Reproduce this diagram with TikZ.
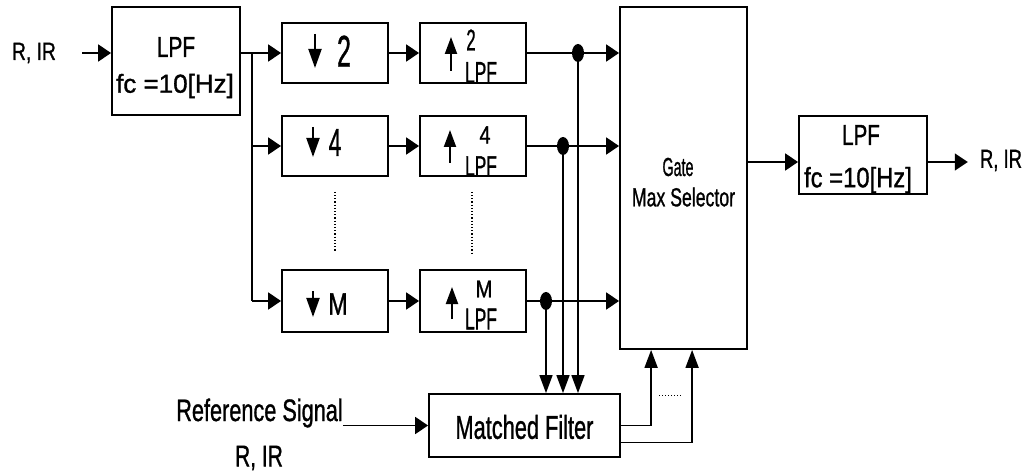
\documentclass[tikz,border=0pt]{standalone}
\usepackage{fontspec}
\usepackage{graphicx}
\setmainfont[FakeBold=1.2]{Liberation Sans}
\usetikzlibrary{arrows.meta}
\newcommand\tx[3]{{\fontsize{#1}{#1}\selectfont\scalebox{#2}[1]{#3}}}
\begin{document}
\begin{tikzpicture}[x=1pt,y=-1pt,
  blk/.style={draw, line width=1.8pt, inner sep=0pt},
  harr/.style={line width=1.7pt, -{Triangle[length=13pt,width=17pt]}},
  varr/.style={line width=1.7pt, -{Triangle[length=18pt,width=13pt]}},
  dna/.style={line width=2pt, -{Triangle[length=19pt,width=13pt]}},
  upa/.style={line width=2pt, -{Triangle[length=17pt,width=12pt]}},
  ln/.style={line width=1.7pt},
  txt/.style={inner sep=0pt},
  dt/.style={dotted, line width=1.2pt}]
\useasboundingbox (0,0) rectangle (1034,473);

% input LPF
\node[blk, minimum width=128pt, minimum height=108pt] (lpf1) at (176,61) {};
\node[txt] (lpf1a) at (176,47) {\tx{29}{0.72}{LPF}};
\node[txt] (lpf1b) at (175,86) {\tx{26}{1.0}{fc =10[Hz]}};
\node[txt] (inL) at (34,53) {\tx{25}{0.77}{R, IR}};
\draw[harr, shorten <=26pt] (inL.east) -- (lpf1.west |- inL.east);

% down-sampling boxes
\node[blk, minimum width=106pt, minimum height=60pt] (d2) at (335,53) {};
\node[blk, minimum width=106pt, minimum height=60pt] (d4) at (335,146) {};
\node[blk, minimum width=106pt, minimum height=62pt] (dM) at (335,301) {};
% up-sampling boxes
\node[blk, minimum width=106pt, minimum height=60pt] (u2) at (473,53) {};
\node[blk, minimum width=106pt, minimum height=60pt] (u4) at (473,146) {};
\node[blk, minimum width=106pt, minimum height=62pt] (uM) at (473,301) {};

% contents of down boxes
\draw[dna] ([xshift=-20pt,yshift=19pt]d2.center) -- ([xshift=-20pt,yshift=-15pt]d2.center);
\node[txt] (d2t) at (344,51) {\tx{44}{0.57}{2}};
\draw[dna] ([xshift=-22pt,yshift=19pt]d4.center) -- ([xshift=-22pt,yshift=-11pt]d4.center);
\node[txt] (d4t) at (335,142.5) {\tx{39}{0.58}{4}};
\draw[dna] ([xshift=-22pt,yshift=10pt]dM.center) -- ([xshift=-22pt,yshift=-16pt]dM.center);
\node[txt] (dMt) at (338,304) {\tx{31}{0.75}{M}};

% contents of up boxes
\draw[upa] ([xshift=-22pt,yshift=-18pt]u2.center) -- ([xshift=-22pt,yshift=16pt]u2.center);
\node[txt] (u2s) at (471,40) {\tx{30}{0.56}{2}};
\node[txt] (u2l) at (481,72.5) {\tx{30}{0.58}{LPF}};
\draw[upa] ([xshift=-23pt,yshift=-17pt]u4.center) -- ([xshift=-23pt,yshift=16pt]u4.center);
\node[txt] (u4s) at (485,135) {\tx{25}{0.8}{4}};
\node[txt] (u4l) at (481,166) {\tx{28}{0.62}{LPF}};
\draw[upa] ([xshift=-21pt,yshift=-18pt]uM.center) -- ([xshift=-21pt,yshift=14pt]uM.center);
\node[txt] (uMs) at (484,289) {\tx{24}{0.85}{M}};
\node[txt] (uMl) at (481,319) {\tx{30}{0.58}{LPF}};

% gap dots
\draw[dt] ([yshift=-15pt]d4.south) -- ([yshift=18pt]dM.north);
\draw[dt] ([xshift=-1pt,yshift=-15pt]u4.south) -- ([xshift=-1pt,yshift=14pt]uM.north);

% gate max selector
\node[blk, minimum width=127pt, minimum height=342pt] (gate) at (683.5,178) {};
\node[txt] (gt1) at (678,167) {\tx{26}{0.55}{Gate}};
\node[txt] (gt2) at (683.5,197) {\tx{26}{0.68}{Max Selector}};

% matched filter
\node[blk, minimum width=191pt, minimum height=63pt] (mf) at (524.5,425.5) {};
\node[txt] (mft) at (524.5,427) {\tx{33}{0.66}{Matched Filter}};
\node[txt] (ref1) at (259.5,413) {\tx{31}{0.70}{Reference Signal}};
\node[txt] (ref2) at (259,458) {\tx{30}{0.70}{R, IR}};
\draw[harr] (ref1.east |- mf.west) -- (mf.west);

% branching from input LPF
\coordinate (br) at (252,53);
\draw[harr] (lpf1.east |- d2) -- (d2.west);
\draw[ln] (br) -- (br |- dM);
\draw[harr] (br |- d4) -- (d4.west);
\draw[harr] (br |- dM) -- (dM.west);

% down -> up
\draw[harr] (d2.east) -- (u2.west);
\draw[harr] (d4.east) -- (u4.west);
\draw[harr] (dM.east) -- (uM.west);

% up -> gate
\draw[harr] (u2.east) -- (gate.west |- u2);
\draw[harr] (u4.east) -- (gate.west |- u4);
\draw[harr] (uM.east) -- (gate.west |- uM);

% taps to matched filter
\coordinate (c1) at (578,53);
\coordinate (c2) at (563,146);
\coordinate (c3) at (546,301);
\draw[varr] (c1) -- (c1 |- mf.north);
\draw[varr] (c2) -- (c2 |- mf.north);
\draw[varr] (c3) -- (c3 |- mf.north);
\fill (c1) ellipse [x radius=6pt, y radius=9pt];
\fill (c2) ellipse [x radius=6pt, y radius=9pt];
\fill (c3) ellipse [x radius=6pt, y radius=9pt];

% matched filter -> gate
\draw[varr] (mf.east) -| ([xshift=32pt]gate.south west);
\draw[varr] ([yshift=-17pt]mf.east) -| ([xshift=73pt]gate.south west);
\draw[dotted, line width=1pt] ([xshift=40pt,yshift=-46pt]gate.south west) -- ([xshift=62pt,yshift=-46pt]gate.south west);

% output LPF
\node[blk, minimum width=128pt, minimum height=78pt] (lpf2) at (863,155) {};
\node[txt] (lpf2a) at (861,135) {\tx{29}{0.71}{LPF}};
\node[txt] (lpf2b) at (858,180) {\tx{28}{0.85}{fc =10[Hz]}};
\coordinate (go) at (700,162);
\draw[harr] (gate.east |- go) -- (lpf2.west |- go);
\node[txt] (outR) at (1001,160.5) {\tx{26}{0.71}{R, IR}};
\draw[harr, shorten >=12pt] (lpf2.east |- go) -- (outR.west |- go);
\end{tikzpicture}
\end{document}
